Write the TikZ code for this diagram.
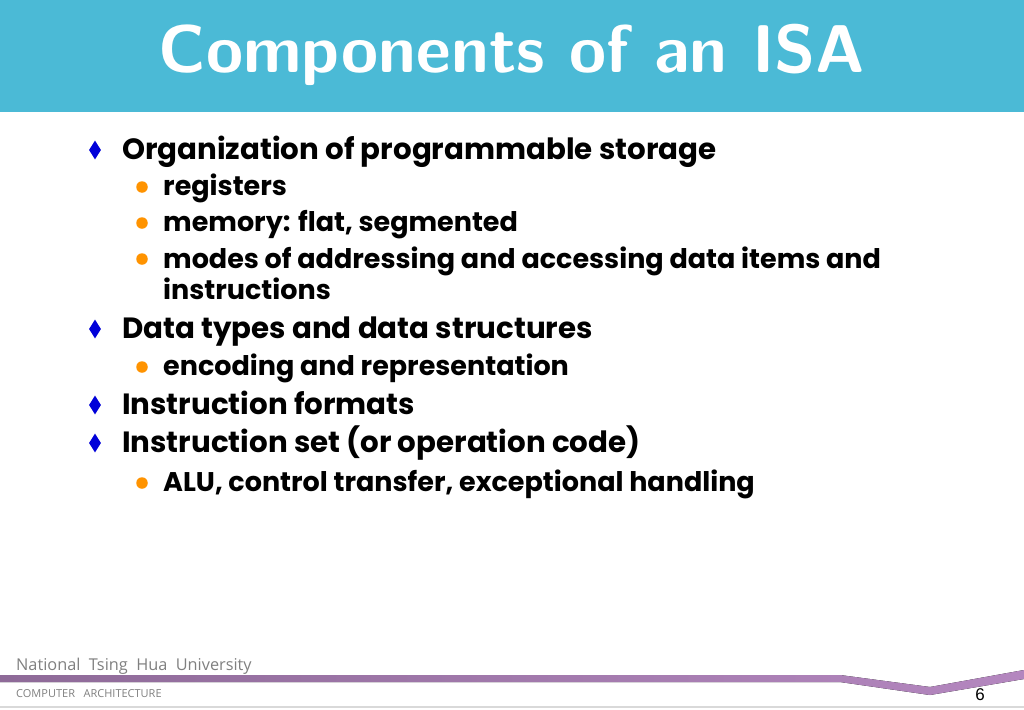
\documentclass[tikz,border=0pt]{standalone}
\usepackage{fontspec}
\usetikzlibrary{shapes.geometric}
\setmainfont{Poppins}
\newfontfamily\footfont{Open Sans}
\newfontfamily\numfont{Liberation Sans}
\definecolor{band}{HTML}{4BBAD6}
\definecolor{pur}{HTML}{B487BF}
\definecolor{purd}{HTML}{8E6A98}
\begin{document}
\begin{tikzpicture}[x=1pt,y=-1pt,
  lone/.style={anchor=base west,font=\fontsize{29.3}{30}\selectfont\bfseries,inner sep=0},
  ltwo/.style={anchor=base west,font=\fontsize{27}{28}\selectfont\bfseries,inner sep=0},
  dia/.style={diamond,fill=blue!85!black,inner sep=0,minimum width=12,minimum height=19},
  dot/.style={circle,fill=orange!85!yellow,inner sep=0,minimum size=11.5}]
\useasboundingbox (0,0) rectangle (1024,709);
\fill[white] (0,0) rectangle (1024,709);
\fill[band] (0,0) rectangle (1024,112);
\node (title) at (512,55) {\fontfamily{lmss}\fontsize{67.5}{70}\selectfont\bfseries\color{white}Components of an ISA};
\node[lone] (a) at (122,159) {Organization of programmable storage};
\node[ltwo] (a1) at (163,195) {registers};
\node[ltwo] (a2) at (163,231) {memory: flat, segmented};
\node[ltwo] (a3) at (163,268) {modes of addressing and accessing data items and};
\node[ltwo] (a4) at (163,299) {instructions};
\node[lone] (b) at (122,338) {Data types and data structures};
\node[ltwo] (b1) at (163,375) {encoding and representation};
\node[lone] (c) at (122,414) {Instruction formats};
\node[lone] (d) at (122,452) {Instruction set (or operation code)};
\node[ltwo] (d1) at (163,491) {ALU, control transfer, exceptional handling};
\foreach \n/\y in {da/150,db/329,dc/405,dd/443} \node[dia] (\n) at (95,\y) {};
\foreach \n/\y in {e1/187,e2/223,e3/259,e4/367,e5/483} \node[dot] (\n) at (142,\y) {};
% footer
\node[anchor=base west,inner sep=0,text=gray] (nt) at (16,670) {\footfont\fontsize{16.3}{17}\selectfont National\ \ Tsing\ \ Hua\ \ University};
\node[anchor=base west,inner sep=0,text=gray] (ca) at (16,697) {\footfont\fontsize{11}{12}\selectfont COMPUTER\ \ \ ARCHITECTURE};
\fill[left color=purd,right color=pur] (0,675) -- (840,675) -- (930,687) -- (1024,670) -- (1024,679) -- (930,695) -- (840,682) -- (0,682) -- cycle;
\node[anchor=base,inner sep=0] (pg) at (980,700) {\numfont\fontsize{17}{18}\selectfont 6};
\draw[gray!30,line width=1.5] (0,707) -- (1024,707);
\end{tikzpicture}
\end{document}
